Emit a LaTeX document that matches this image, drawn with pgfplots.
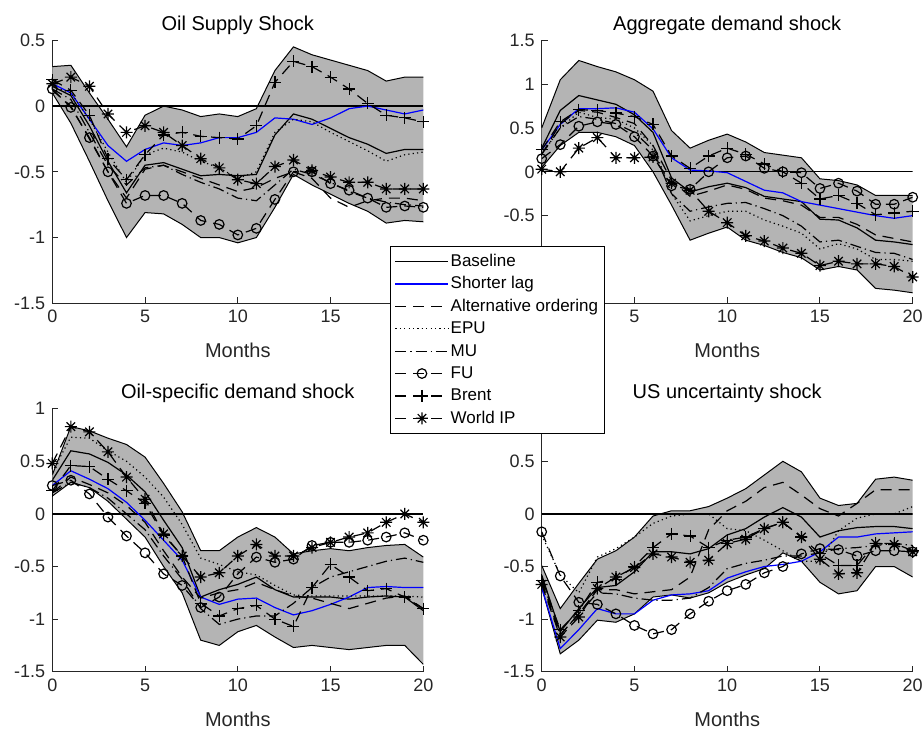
\documentclass[border=0pt]{standalone}
\usepackage{fontspec}
\setmainfont{Liberation Sans}
\usepackage{pgfplots}
\usepackage{pgfplotstable}
\pgfplotsset{compat=1.18}
\usepgfplotslibrary{fillbetween}

\definecolor{axgray}{RGB}{38,38,38}
\definecolor{bandgray}{RGB}{180,180,180}

\pgfdeclareplotmark{mstar}{%
 \pgfpathmoveto{\pgfqpoint{-\pgfplotmarksize}{0pt}}\pgfpathlineto{\pgfqpoint{\pgfplotmarksize}{0pt}}%
 \pgfpathmoveto{\pgfqpoint{0pt}{-\pgfplotmarksize}}\pgfpathlineto{\pgfqpoint{0pt}{\pgfplotmarksize}}%
 \pgfpathmoveto{\pgfqpoint{-.707\pgfplotmarksize}{-.707\pgfplotmarksize}}\pgfpathlineto{\pgfqpoint{.707\pgfplotmarksize}{.707\pgfplotmarksize}}%
 \pgfpathmoveto{\pgfqpoint{-.707\pgfplotmarksize}{.707\pgfplotmarksize}}\pgfpathlineto{\pgfqpoint{.707\pgfplotmarksize}{-.707\pgfplotmarksize}}%
 \pgfusepathqstroke}

\pgfplotstableread{
t up lo base short alt epu mu fu brent wip
0 0.30 0.10 0.15 0.17 0.12 0.15 0.13 0.13 0.20 0.17
1 0.31 -0.13 0.08 0.10 0.00 0.10 0.05 -0.01 0.12 0.22
2 0.10 -0.42 -0.15 -0.10 -0.25 -0.10 -0.20 -0.24 -0.07 0.15
3 -0.10 -0.72 -0.42 -0.30 -0.50 -0.35 -0.45 -0.50 -0.40 -0.06
4 -0.31 -1.00 -0.66 -0.42 -0.70 -0.58 -0.60 -0.74 -0.56 -0.20
5 -0.07 -0.81 -0.45 -0.33 -0.48 -0.37 -0.47 -0.68 -0.37 -0.15
6 0.00 -0.82 -0.43 -0.28 -0.45 -0.32 -0.45 -0.68 -0.22 -0.20
7 -0.03 -0.90 -0.48 -0.30 -0.50 -0.35 -0.52 -0.74 -0.20 -0.30
8 -0.08 -1.00 -0.53 -0.28 -0.55 -0.42 -0.58 -0.87 -0.23 -0.40
9 -0.06 -1.00 -0.52 -0.24 -0.60 -0.47 -0.63 -0.90 -0.24 -0.47
10 -0.08 -1.04 -0.53 -0.24 -0.65 -0.55 -0.70 -0.98 -0.25 -0.56
11 -0.02 -1.00 -0.52 -0.20 -0.62 -0.50 -0.72 -0.93 -0.15 -0.59
12 0.27 -0.77 -0.22 -0.09 -0.55 -0.20 -0.60 -0.71 0.18 -0.46
13 0.45 -0.52 -0.06 -0.10 -0.50 -0.10 -0.48 -0.50 0.34 -0.41
14 0.39 -0.60 -0.10 -0.14 -0.55 -0.12 -0.52 -0.50 0.30 -0.49
15 0.35 -0.67 -0.17 -0.09 -0.70 -0.20 -0.58 -0.59 0.22 -0.54
16 0.31 -0.74 -0.24 -0.02 -0.77 -0.27 -0.65 -0.64 0.13 -0.58
17 0.27 -0.80 -0.29 0.00 -0.72 -0.34 -0.70 -0.70 0.02 -0.58
18 0.19 -0.89 -0.36 -0.03 -0.70 -0.42 -0.73 -0.77 -0.07 -0.63
19 0.22 -0.87 -0.33 -0.06 -0.70 -0.37 -0.75 -0.76 -0.09 -0.63
20 0.22 -0.88 -0.33 -0.03 -0.72 -0.35 -0.76 -0.77 -0.12 -0.63
}\tabA

\pgfplotstableread{
t up lo base short alt epu mu fu brent wip
0 0.50 0.05 0.27 0.25 0.20 0.20 0.20 0.15 0.25 0.03
1 1.05 0.30 0.70 0.54 0.55 0.50 0.50 0.31 0.57 0.00
2 1.27 0.45 0.87 0.72 0.70 0.68 0.63 0.52 0.71 0.27
3 1.20 0.45 0.82 0.72 0.68 0.62 0.60 0.57 0.70 0.39
4 1.14 0.40 0.77 0.73 0.62 0.60 0.55 0.54 0.67 0.16
5 1.05 0.30 0.65 0.68 0.55 0.50 0.45 0.40 0.63 0.16
6 0.92 0.00 0.45 0.49 0.30 0.30 0.25 0.18 0.54 0.17
7 0.47 -0.38 -0.07 0.16 -0.10 -0.25 -0.25 -0.16 0.18 -0.13
8 0.27 -0.78 -0.23 0.02 -0.28 -0.56 -0.45 -0.20 0.04 -0.21
9 0.36 -0.70 -0.17 0.01 -0.22 -0.50 -0.40 0.00 0.18 -0.45
10 0.43 -0.63 -0.13 -0.01 -0.15 -0.45 -0.36 0.16 0.27 -0.58
11 0.34 -0.78 -0.18 -0.11 -0.20 -0.45 -0.35 0.18 0.20 -0.73
12 0.22 -0.84 -0.28 -0.21 -0.30 -0.55 -0.42 0.04 0.09 -0.79
13 0.19 -0.92 -0.31 -0.24 -0.33 -0.62 -0.50 0.00 0.00 -0.87
14 0.16 -0.98 -0.34 -0.34 -0.38 -0.70 -0.62 -0.01 -0.13 -0.93
15 -0.08 -1.12 -0.54 -0.38 -0.52 -0.88 -0.80 -0.19 -0.31 -1.07
16 -0.10 -1.08 -0.55 -0.42 -0.52 -0.82 -0.78 -0.13 -0.27 -1.02
17 -0.15 -1.12 -0.64 -0.46 -0.60 -0.88 -0.85 -0.22 -0.36 -1.05
18 -0.27 -1.33 -0.78 -0.50 -0.72 -1.00 -0.92 -0.37 -0.49 -1.05
19 -0.27 -1.35 -0.80 -0.53 -0.76 -1.00 -0.93 -0.37 -0.47 -1.08
20 -0.27 -1.38 -0.83 -0.50 -0.80 -1.02 -1.00 -0.29 -0.45 -1.20
}\tabB

\pgfplotstableread{
t up lo base short alt epu mu fu brent wip
0 0.37 0.17 0.32 0.27 0.20 0.40 0.20 0.27 0.22 0.48
1 0.83 0.30 0.60 0.41 0.35 0.73 0.30 0.32 0.46 0.83
2 0.79 0.25 0.57 0.33 0.28 0.72 0.25 0.19 0.45 0.78
3 0.72 0.12 0.49 0.24 0.20 0.60 0.15 -0.03 0.33 0.59
4 0.66 -0.05 0.37 0.11 0.08 0.50 0.00 -0.21 0.22 0.35
5 0.54 -0.22 0.21 -0.06 -0.08 0.35 -0.15 -0.37 0.10 0.14
6 0.29 -0.50 -0.06 -0.25 -0.35 0.16 -0.40 -0.57 -0.20 -0.19
7 0.02 -0.75 -0.32 -0.44 -0.60 -0.10 -0.62 -0.68 -0.40 -0.40
8 -0.35 -1.20 -0.79 -0.79 -0.80 -0.42 -0.90 -0.89 -0.85 -0.60
9 -0.35 -1.25 -0.72 -0.86 -0.75 -0.48 -1.05 -0.79 -0.97 -0.56
10 -0.22 -1.12 -0.67 -0.81 -0.72 -0.55 -1.00 -0.57 -0.90 -0.40
11 -0.13 -1.06 -0.60 -0.80 -0.65 -0.58 -0.97 -0.41 -0.87 -0.29
12 -0.22 -1.17 -0.72 -0.89 -0.72 -0.68 -0.97 -0.46 -1.00 -0.40
13 -0.38 -1.27 -0.79 -0.96 -0.78 -0.77 -0.85 -0.43 -1.07 -0.40
14 -0.35 -1.25 -0.79 -0.92 -0.80 -0.78 -0.70 -0.30 -0.70 -0.32
15 -0.33 -1.27 -0.79 -0.86 -0.85 -0.78 -0.60 -0.27 -0.48 -0.27
16 -0.35 -1.29 -0.81 -0.79 -0.90 -0.78 -0.55 -0.27 -0.60 -0.22
17 -0.32 -1.27 -0.79 -0.70 -0.85 -0.78 -0.50 -0.25 -0.73 -0.18
18 -0.30 -1.25 -0.78 -0.69 -0.80 -0.78 -0.45 -0.22 -0.71 -0.08
19 -0.29 -1.25 -0.79 -0.70 -0.78 -0.78 -0.42 -0.18 -0.79 0.00
20 -0.41 -1.43 -0.92 -0.70 -0.90 -0.79 -0.46 -0.25 -0.90 -0.08
}\tabC

\pgfplotstableread{
t up lo base short alt epu mu fu brent wip
0 -0.49 -0.70 -0.58 -0.70 -0.65 -0.20 -0.60 -0.17 -0.63 -0.67
1 -0.90 -1.33 -1.12 -1.28 -1.15 -0.58 -1.15 -0.59 -1.10 -1.17
2 -0.66 -1.20 -0.90 -1.10 -0.95 -0.75 -0.95 -0.84 -0.92 -0.98
3 -0.43 -1.01 -0.70 -0.90 -0.72 -0.41 -0.75 -0.86 -0.65 -0.71
4 -0.35 -1.03 -0.68 -0.95 -0.72 -0.33 -0.76 -0.95 -0.62 -0.60
5 -0.22 -0.95 -0.55 -0.95 -0.76 -0.22 -0.80 -1.06 -0.50 -0.51
6 -0.02 -0.79 -0.36 -0.82 -0.74 -0.09 -0.82 -1.14 -0.32 -0.38
7 0.03 -0.77 -0.36 -0.77 -0.72 -0.02 -0.82 -1.10 -0.19 -0.41
8 0.03 -0.80 -0.38 -0.76 -0.60 0.00 -0.80 -0.95 -0.21 -0.46
9 0.07 -0.75 -0.33 -0.73 -0.15 0.00 -0.70 -0.83 -0.32 -0.44
10 0.15 -0.65 -0.20 -0.61 0.03 -0.14 -0.52 -0.73 -0.25 -0.28
11 0.24 -0.58 -0.14 -0.55 0.12 -0.16 -0.47 -0.67 -0.22 -0.24
12 0.37 -0.52 -0.03 -0.50 0.25 -0.25 -0.44 -0.56 -0.14 -0.14
13 0.50 -0.37 0.06 -0.48 0.30 -0.35 -0.40 -0.50 -0.08 -0.08
14 0.40 -0.45 -0.03 -0.45 0.18 -0.45 -0.40 -0.38 -0.22 -0.22
15 0.15 -0.65 -0.22 -0.36 0.05 -0.45 -0.37 -0.33 -0.38 -0.43
16 0.08 -0.76 -0.16 -0.22 -0.02 -0.16 -0.33 -0.34 -0.49 -0.57
17 0.10 -0.73 -0.13 -0.22 0.10 -0.04 -0.32 -0.40 -0.49 -0.56
18 0.33 -0.50 -0.12 -0.19 0.23 0.00 -0.30 -0.35 -0.28 -0.28
19 0.35 -0.50 -0.12 -0.18 0.23 0.00 -0.28 -0.35 -0.28 -0.29
20 0.32 -0.60 -0.14 -0.17 0.23 0.07 -0.30 -0.36 -0.35 -0.36
}\tabD

\tikzset{
 ln/.style={line width=0.6pt},
 dashst/.style={dash pattern=on 5.5pt off 3.5pt},
 dotst/.style={dash pattern=on 0.6pt off 1.6pt},
 dashdotst/.style={dash pattern=on 5.5pt off 2pt on 0.6pt off 2pt},
}

\pgfplotsset{
 myax/.style={
   scale only axis, width=185.5pt, height=131.5pt,
   xmin=0, xmax=20, anchor=south west,
   axis x line*=bottom, axis y line*=left,
   axis line style={-, color=axgray, line width=0.5pt},
   tick align=inside, major tick length=3pt,
   tick style={axgray, line width=0.5pt},
   xtick={0,5,10,15,20},
   ticklabel style={font=\fontsize{9}{10}\selectfont, color=axgray},
   xlabel={Months}, xlabel style={font=\fontsize{10}{12}\selectfont, color=axgray, yshift=-3.3pt},
   title style={font=\fontsize{10}{12}\selectfont, color=black, yshift=-6.5pt},
   legend image code/.code={\draw[mark repeat=2,mark phase=2,##1] plot coordinates {(0pt,0pt) (13.25pt,0pt) (26.5pt,0pt)};},
 }
}

\newcommand{\panel}[2]{%
 \addplot[draw=none, forget plot, name path=u#2] table[x=t,y=up]{#1};
 \addplot[draw=none, forget plot, name path=l#2] table[x=t,y=lo]{#1};
 \addplot[bandgray, forget plot] fill between[of=u#2 and l#2];
 \addplot[black, line width=0.5pt, forget plot] table[x=t,y=up]{#1};
 \addplot[black, line width=0.5pt, forget plot] table[x=t,y=lo]{#1};
 \addplot[black, line width=0.6pt, forget plot] coordinates {(0,0) (20,0)};
 \addplot[ln, black] table[x=t,y=base]{#1};
 \addplot[ln, blue] table[x=t,y=short]{#1};
 \addplot[ln, black, dashst] table[x=t,y=alt]{#1};
 \addplot[ln, black, dotst] table[x=t,y=epu]{#1};
 \addplot[ln, black, dashdotst] table[x=t,y=mu]{#1};
 \addplot[ln, black, dashst, mark=o, mark size=2.4pt, mark options={solid}] table[x=t,y=fu]{#1};
 \addplot[ln, black, dashst, mark=+, mark size=3pt, mark options={solid}] table[x=t,y=brent]{#1};
 \addplot[ln, black, dashst, mark=mstar, mark size=3pt, mark options={solid}] table[x=t,y=wip]{#1};
}

\begin{document}
\begin{tikzpicture}

\begin{axis}[myax, at={(26.15pt,-151.65pt)},
  xticklabels={0,5,10,15,{}},
  ymin=-1.5, ymax=0.5, ytick={-1.5,-1,-0.5,0,0.5}, yticklabels={-1.5,-1,-0.5,0,0.5},
  title={Oil Supply Shock}]
\panel{\tabA}{a}
\end{axis}

\begin{axis}[myax, at={(270.85pt,-151.65pt)},
  xticklabels={{},5,10,15,20},
  ymin=-1.5, ymax=1.5, ytick={-1.5,-1,-0.5,0,0.5,1,1.5}, yticklabels={{},-1,-0.5,0,0.5,1,1.5},
  title={Aggregate demand shock}]
\panel{\tabB}{b}
\end{axis}

\begin{axis}[myax, at={(26.15pt,-335.85pt)},
  xticklabels={0,5,10,15,20},
  ymin=-1.5, ymax=1, ytick={-1.5,-1,-0.5,0,0.5,1}, yticklabels={-1.5,-1,-0.5,0,0.5,1},
  title={Oil-specific demand shock}]
\panel{\tabC}{c}
\end{axis}

\begin{axis}[myax, at={(270.85pt,-335.85pt)},
  xticklabels={0,5,10,15,20},
  ymin=-1.5, ymax=1, ytick={-1.5,-1,-0.5,0,0.5,1}, yticklabels={-1.5,-1,-0.5,0,0.5,{}},
  title={US uncertainty shock},
  legend cell align=left,
  legend style={at={(-0.409,1.6186)}, anchor=north west, draw=black, fill=white,
    line width=0.5pt, font=\fontsize{8.5}{10}\selectfont,
    nodes={inner sep=0.8pt, text height=7pt, text depth=2pt, anchor=west},
    row sep=0.6pt, inner sep=2.2pt}]
\panel{\tabD}{d}
\legend{Baseline,Shorter lag,Alternative ordering,EPU,MU,FU,Brent,World IP}
\end{axis}

\pgfresetboundingbox
\path[use as bounding box] (0pt,0pt) rectangle (462pt,-364.5pt);
\end{tikzpicture}
\end{document}
